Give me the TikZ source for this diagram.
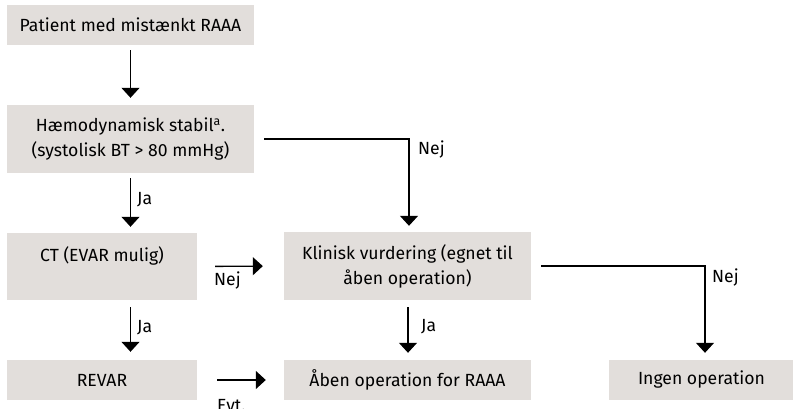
\documentclass[tikz,border=0pt]{standalone}
\usepackage{fontspec}
\setmainfont{Fira Sans}
\usetikzlibrary{arrows.meta}
\definecolor{boxgray}{RGB}{226,222,219}
\begin{document}
\begin{tikzpicture}[x=1pt,y=-1pt,
  box/.style={fill=boxgray, draw=none, inner sep=0pt, align=center,
    font=\fontsize{17.6}{25}\selectfont, text=black},
  lbl/.style={inner sep=0pt, anchor=west, font=\fontsize{17.6}{20}\selectfont},
  arr/.style={line width=1.3pt, -{Triangle[length=10pt,width=18pt]}},
  ln/.style={line width=1.3pt}]
\useasboundingbox (0,0) rectangle (793,409);
\node[box, minimum width=247pt, minimum height=40pt] (p) at (130.5,25) {Patient med mistænkt RAAA};
\node[box, minimum width=247pt, minimum height=68pt] (h) at (130.5,139) {Hæmodynamisk stabil\textsuperscript{a}.\\(systolisk BT > 80 mmHg)};
\node[box, minimum width=190pt, minimum height=67pt] (ct) at (102,266.5) {CT (EVAR mulig)\\\mbox{}};
\node[box, minimum width=247pt, minimum height=68pt] (kl) at (407.5,266) {Klinisk vurdering (egnet til\\åben operation)};
\node[box, minimum width=190pt, minimum height=40pt] (rev) at (102,380) {REVAR};
\node[box, minimum width=247pt, minimum height=40pt] (ab) at (407.5,380) {Åben operation for RAAA};
\node[box, minimum width=185pt, minimum height=40pt] (ing) at (701.5,380) {Ingen operation};

\draw[arr, shorten <=5pt, shorten >=7pt] (p.south) -- (h.north);
\draw[arr, shorten <=5pt, shorten >=6pt] (h.south) -- (h.south |- ct.north);
\draw[arr, shorten <=7pt, shorten >=8pt] (h.south |- ct.south) -- (h.south |- rev.north);
\draw[arr, shorten <=10pt, shorten >=6pt] (h.east) -| ([xshift=1.5pt]kl.north);
\draw[arr, shorten <=18pt, shorten >=21pt] (ct.east) -- (kl.west);
\draw[arr, shorten <=7pt, shorten >=7pt] ([xshift=0.5pt]kl.south) -- ([xshift=0.5pt]ab.north);
\draw[arr, shorten <=10pt, shorten >=7pt] (kl.east) -| ([xshift=3.5pt]ing.north);
\draw[arr, shorten <=20pt, shorten >=18pt] (rev.east) -- (ab.west);

\node[lbl] (l1) at (137,200) {Ja};
\node[lbl] (l2) at (418,150) {Nej};
\node[lbl] (l3) at (214,281) {Nej};
\node[lbl] (l4) at (137,328) {Ja};
\node[lbl] (l5) at (421,327) {Ja};
\node[lbl] (l6) at (712,278) {Nej};
\node[lbl] (l7) at (217,406) {Evt.};
\end{tikzpicture}
\end{document}
